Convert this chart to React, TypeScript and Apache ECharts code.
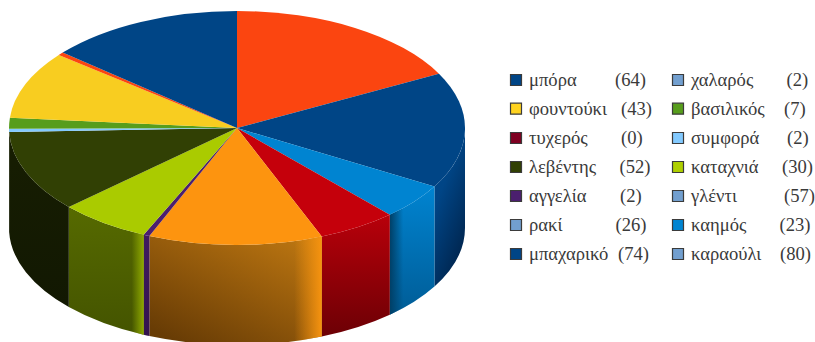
import React, { useEffect, useRef } from "react";
import * as echarts from "echarts";

// Legend reading order: left column first, then right column.
const legendNames = ["μπόρα", "φουντούκι", "τυχερός", "λεβέντης", "αγγελία", "ρακί", "μπαχαρικό", "χαλαρός", "βασιλικός", "συμφορά", "καταχνιά", "γλέντι", "καημός", "καραούλι"];
const legendValues = [64, 43, 0, 52, 2, 26, 74, 2, 7, 2, 30, 57, 23, 80];
const swatchColors = ["#004586", "#ffd320", "#7e0021", "#314004", "#4b1f6f", "#729fcf", "#004586", "#729fcf", "#579d1c", "#83caff", "#aecf00", "#729fcf", "#0084d1", "#729fcf"];

// Slices, clockwise from twelve o'clock.
const sliceNames = ["καραούλι", "μπαχαρικό", "καημός", "ρακί", "γλέντι", "αγγελία", "καταχνιά", "λεβέντης", "συμφορά", "τυχερός", "βασιλικός", "φουντούκι", "χαλαρός", "μπόρα"];
const sliceValues = [80, 74, 23, 26, 57, 2, 30, 52, 2, 0, 7, 43, 2, 64];
const sliceColors = ["#fb4510", "#004586", "#0084d1", "#c5000b", "#fd940f", "#4b1f6f", "#aacb00", "#314004", "#83caff", "#7e0021", "#579d1c", "#f8cd20", "#fb4510", "#004586"];

// Side wall shading per slice: base gradient direction and colours, where the first
// colour holds until `hold`, then optional overlays for the right and left edges.
type WallShade = { dir: [number, number, number, number]; from: string; to: string; hold?: number; right?: string; left?: string };
const wallShades: Record<string, WallShade> = {
  "μπαχαρικό": { dir: [0, 0, 0.5, 1], from: "#004586", to: "#002650", hold: 0.4 },
  "καημός": { dir: [0, 0, 0, 1], from: "#0084d1", to: "#005c96", left: "#003f66" },
  "ρακί": { dir: [0, 0, 0, 1], from: "#b8000a", to: "#6c0005" },
  "γλέντι": { dir: [1, 0, 0.2, 1], from: "#c27a12", to: "#683c05", right: "#f6930f" },
  "αγγελία": { dir: [0, 0, 0, 1], from: "#401a60", to: "#33144e" },
  "καταχνιά": { dir: [0, 0, 0, 1], from: "#566a00", to: "#445400", right: "#8fa900" },
  "λεβέντης": { dir: [0, 0, 0, 1], from: "#171e02", to: "#121802" },
};

const CX = 237;
const CY = 128;
const RX = 228;
const RY = 117;
const DEPTH = 100;
const TOTAL = sliceValues.reduce((a, b) => a + b, 0);

const px = (t: number) => CX + RX * Math.sin(t);
const py = (t: number) => CY - RY * Math.cos(t);
const fmt = (n: number) => n.toFixed(2);

function sectorPath(a: number, b: number) {
  const large = b - a > Math.PI ? 1 : 0;
  return `M${CX} ${CY}L${fmt(px(a))} ${fmt(py(a))}A${RX} ${RY} 0 ${large} 1 ${fmt(px(b))} ${fmt(py(b))}Z`;
}

function wallPath(a: number, b: number) {
  return (
    `M${fmt(px(a))} ${fmt(py(a))}A${RX} ${RY} 0 0 1 ${fmt(px(b))} ${fmt(py(b))}` +
    `L${fmt(px(b))} ${fmt(py(b) + DEPTH)}A${RX} ${RY} 0 0 0 ${fmt(px(a))} ${fmt(py(a) + DEPTH)}Z`
  );
}

function renderSlice(params: any, api: any) {
  const i = params.dataIndex;
  const before = sliceValues.slice(0, i).reduce((s, v) => s + v, 0);
  const a = (before / TOTAL) * Math.PI * 2;
  const b = ((before + api.value(0)) / TOTAL) * Math.PI * 2;
  if (b <= a) return { type: "group", children: [] };
  const children: any[] = [];
  const w0 = Math.max(a, Math.PI / 2);
  const w1 = Math.min(b, (Math.PI * 3) / 2);
  const shade = wallShades[sliceNames[i]];
  if (w1 > w0 && shade) {
    const d = wallPath(w0, w1);
    const [x0, y0, x1, y1] = shade.dir;
    const layer = (fill: any) => ({ type: "path", shape: { pathData: d }, style: { fill } });
    children.push(
      layer(
        new echarts.graphic.LinearGradient(x0, y0, x1, y1, [
          { offset: 0, color: shade.from },
          { offset: shade.hold ?? 0, color: shade.from },
          { offset: 1, color: shade.to },
        ])
      )
    );
    if (shade.right) {
      children.push(
        layer(
          new echarts.graphic.LinearGradient(0, 0, 1, 0, [
            { offset: 0, color: shade.right + "00" },
            { offset: 0.84, color: shade.right + "00" },
            { offset: 1, color: shade.right + "ff" },
          ])
        )
      );
    }
    if (shade.left) {
      children.push(
        layer(
          new echarts.graphic.LinearGradient(0, 0, 1, 0, [
            { offset: 0, color: shade.left + "ff" },
            { offset: 0.3, color: shade.left + "00" },
          ])
        )
      );
    }
  }
  children.push({
    type: "path",
    shape: { pathData: sectorPath(a, b) },
    style: { fill: sliceColors[i] },
  });
  return { type: "group", children };
}

const ROW_Y = [80, 108.7, 138, 167, 196, 225, 254];
const TEXT_SHIFT_Y = -0.7;
const COLUMN_SWATCH_X = [510, 672];
const COLUMN_TEXT_X = [529, 691];
const COUNT_X = [615, 621, 621, 619.5, 620, 615.5, 618, 786.5, 784, 787, 782, 784, 779.5, 780];
const FONT = '18.6px "Liberation Serif"';
const TEXT_COLOR = "#3a3a3a";

function legendGraphics() {
  const out: any[] = [];
  legendNames.forEach((name, i) => {
    const col = i < 7 ? 0 : 1;
    const y = ROW_Y[i % 7];
    out.push({
      type: "rect",
      shape: { x: COLUMN_SWATCH_X[col] + 0.5, y: y - 5.5, width: 11, height: 11 },
      style: { fill: swatchColors[i], stroke: "#3b3b3b", lineWidth: 1.2 },
    });
    out.push({
      type: "text",
      x: COLUMN_TEXT_X[col],
      y: y + TEXT_SHIFT_Y,
      style: { text: name, font: FONT, fill: TEXT_COLOR, verticalAlign: "middle", align: "left" },
    });
    out.push({
      type: "text",
      x: COUNT_X[i],
      y: y + TEXT_SHIFT_Y,
      style: { text: `(${legendValues[i]})`, font: FONT, fill: TEXT_COLOR, verticalAlign: "middle", align: "left" },
    });
  });
  return out;
}

export default function App() {
  const ref = useRef<HTMLDivElement>(null);
  useEffect(() => {
    if (!ref.current) return;
    const chart = echarts.init(ref.current, undefined, { renderer: "svg" });
    chart.setOption({
      animation: false,
      backgroundColor: "#ffffff",
      series: [
        {
          type: "custom",
          coordinateSystem: "none",
          data: sliceValues.map((value, i) => ({ name: sliceNames[i], value: [value] })),
          renderItem: renderSlice,
          silent: true,
        },
      ],
      graphic: legendGraphics(),
    });
    return () => chart.dispose();
  }, []);
  return <div ref={ref} style={{ position: "fixed", left: 0, top: 0, width: 815, height: 342 }} />;
}
